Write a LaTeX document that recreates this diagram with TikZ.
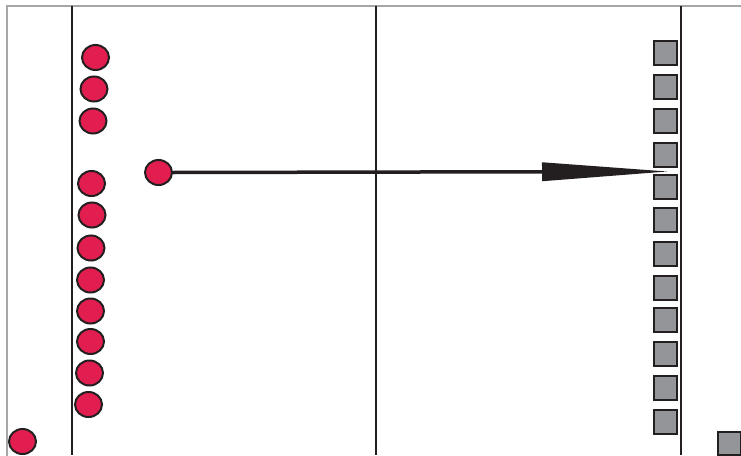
\documentclass[tikz,border=0pt]{standalone}
\usepackage{xcolor}
\usepackage{tikz}
\usetikzlibrary{arrows.meta, shapes.geometric}

\definecolor{dotred}{RGB}{226,30,80}
\definecolor{boxgray}{RGB}{148,149,152}
\definecolor{inkdark}{RGB}{35,31,32}

\begin{document}
\begin{tikzpicture}[x=1pt, y=-1pt,
        dot/.style={ellipse, draw=inkdark, line width=2pt, fill=dotred, minimum width=27pt, minimum height=25pt, inner sep=0pt},
        box/.style={rectangle, draw=inkdark, line width=2.3pt, fill=boxgray, minimum size=23.5pt, inner sep=0pt},
        divider/.style={inkdark, line width=2.2pt},
        arrow/.style={-{Triangle[length=125pt, width=19pt, line width=0pt]}, inkdark, line width=3.5pt}
    ]
        \useasboundingbox (0,0) rectangle (741,455);
        \clip (0,0) rectangle (741,455);

        % Frame and dividers
        \draw[gray!70, line width=1.4pt] (7,6) rectangle (760,470);
        \draw[divider] (72,6) -- (72,455);
        \draw[divider] (376,6) -- (376,455);
        \draw[divider] (681,6) -- (681,455);

        % Left column of dots
        \node[dot] (d1) at (95.5,57.5) {};
        \node[dot] (d2) at (94,89) {};
        \node[dot] (d3) at (93,121) {};
        \node[dot] (d4) at (91.5,183.5) {};
        \node[dot] (d5) at (92,215) {};
        \node[dot] (d6) at (91,248) {};
        \node[dot] (d7) at (90.5,280) {};
        \node[dot] (d8) at (90.5,311) {};
        \node[dot] (d9) at (90.5,341.5) {};
        \node[dot] (d10) at (89.5,373) {};
        \node[dot] (d11) at (88.5,404.5) {};
        \node[dot] (d0) at (22.5,441.5) {};

        % Moving dot
        \node[dot] (lone) at (158.5,172.5) {};

        % Right column of boxes
        \node[box] (b1) at (665.5,53) {};
        \node[box] (b2) at (665.5,87) {};
        \node[box] (b3) at (665.5,121) {};
        \node[box] (b4) at (665.5,155) {};
        \node[box] (b5) at (665.5,187) {};
        \node[box] (b6) at (665.5,220) {};
        \node[box] (b7) at (665.5,254) {};
        \node[box] (b8) at (665.5,288) {};
        \node[box] (b9) at (665.5,320) {};
        \node[box] (b10) at (665.5,354) {};
        \node[box] (b11) at (665.5,388) {};
        \node[box] (b12) at (665.5,422) {};
        \node[box] (b0) at (729.5,443.5) {};

        % Transfer arrow
        \coordinate (tip) at (667,171.5);
        \draw[arrow] (lone.east) -- (tip);
    \end{tikzpicture}
\end{document}
